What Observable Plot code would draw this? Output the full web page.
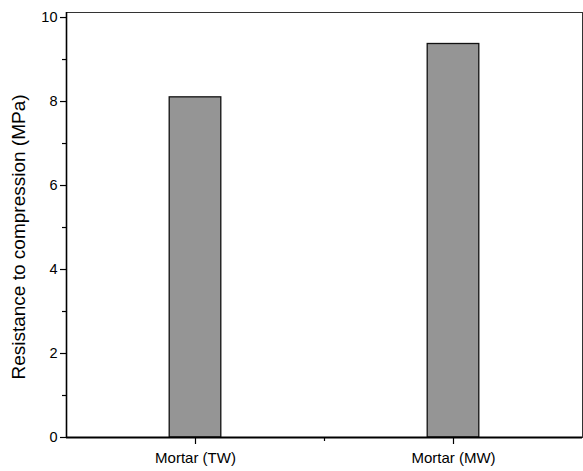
<!DOCTYPE html>
<html>
<head>
<meta charset="utf-8">
<script src="https://cdn.jsdelivr.net/npm/d3@7"></script>
<script src="https://cdn.jsdelivr.net/npm/@observablehq/plot@0.6"></script>
<style>
  html, body { margin: 0; padding: 0; background: #fff; }
  #chart svg { display: block; }
</style>
</head>
<body>
<div id="chart"></div>
<script>
const categories = ["Mortar (TW)", "Mortar (MW)"];
const values = [8.10, 9.37];
const yTitle = "Resistance to compression (MPa)";
const yMajorTicks = [0, 2, 4, 6, 8, 10];
const yMinorTicks = [1, 3, 5, 7, 9];
const xMinorTicks = [1.5];

const data = categories.map((c, i) => ({category: c, pos: i + 1, value: values[i]}));
const barHalf = 0.1;

const font = "'Liberation Sans', Arial, sans-serif";

const chart = Plot.plot({
  width: 583,
  height: 471,
  marginLeft: 66,
  marginRight: 1,
  marginTop: 12,
  marginBottom: 34,
  style: {fontFamily: font, background: "#fff", color: "#000"},
  x: {domain: [0.5, 2.5]},
  y: {domain: [0, 10.12]},
  marks: [
    Plot.rectY(data, {
      x1: d => d.pos - barHalf,
      x2: d => d.pos + barHalf,
      y1: 0,
      y2: "value",
      fill: "#959595",
      stroke: "#111",
      strokeWidth: 1.3
    }),
    Plot.frame({stroke: "#333", strokeWidth: 1}),
    Plot.ruleX([0.5], {stroke: "#000", strokeWidth: 1.6}),
    Plot.ruleY([0], {stroke: "#000", strokeWidth: 1.8}),
    Plot.axisY(yMajorTicks, {
      tickSize: 6,
      tickPadding: 3,
      fontSize: 14.5,
      tickFormat: d => String(d),
      label: null,
      strokeWidth: 1.2
    }),
    Plot.axisY(yMinorTicks, {
      tickSize: 4,
      tickFormat: () => "",
      label: null,
      strokeWidth: 1.2
    }),
    Plot.axisX([1, 2], {
      tickSize: 7,
      tickPadding: 8,
      fontSize: 15,
      tickFormat: d => categories[d - 1],
      label: null,
      strokeWidth: 1.2
    }),
    Plot.axisX(xMinorTicks, {
      tickSize: 4,
      tickFormat: () => "",
      label: null,
      strokeWidth: 1.2
    }),
    Plot.text([yTitle], {
      frameAnchor: "left",
      textAnchor: "middle",
      rotate: -90,
      dx: -48,
      dy: 12,
      fontSize: 19,
      fill: "#000"
    })
  ]
});

document.getElementById("chart").appendChild(chart);
</script>
</body>
</html>
